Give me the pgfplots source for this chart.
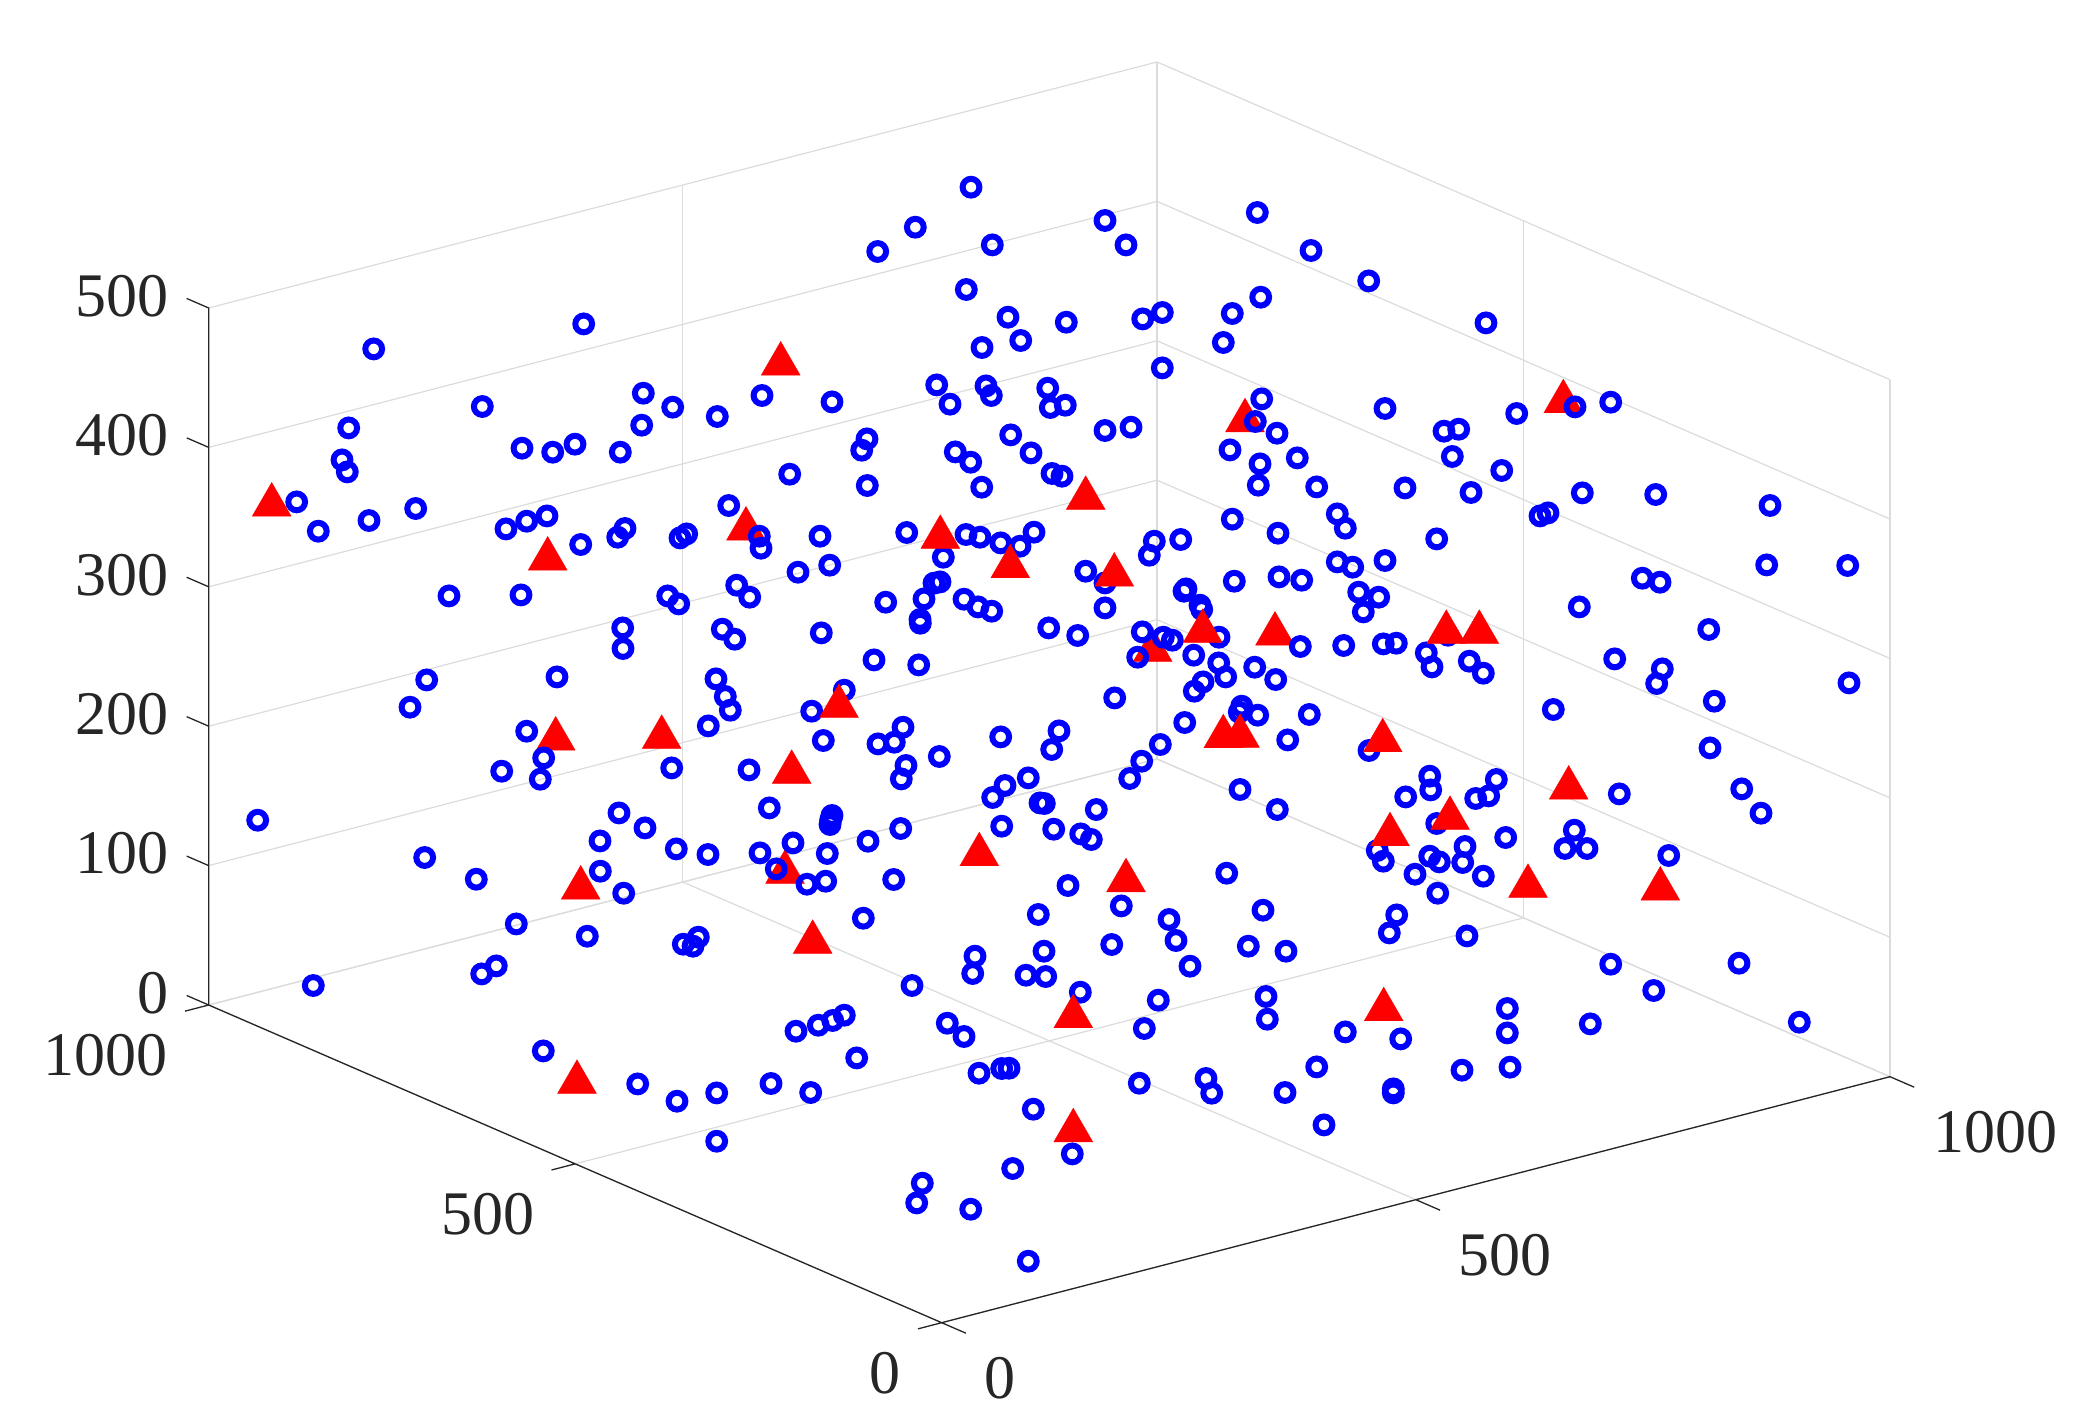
\documentclass[border=0pt]{standalone}
\usepackage{fontspec}
\setmainfont{Liberation Serif}
\usepackage{pgfplots}
\usepackage{pgfplotstable}
\pgfplotsset{compat=1.18}
% Points are read from the picture as screen positions (px, py, in reference pixels).
% The depth along the line of sight cannot be read; the expressions put each one on
% the plane through the cube's centre, so that it projects to where it was read.
\newcommand{\Xof}{1000*((\thisrow{px}-941.7)*1014.7+733*(1670.0-\thisrow{py}))/1653459}
\newcommand{\Yof}{1000*(948.3*(1670.0-\thisrow{py})-943*(\thisrow{px}-941.7))/1653459}
\newcommand{\Zof}{500*(((\thisrow{px}-941.7)*71.7+1681.3*(1670.0-\thisrow{py}))/1653459-0.5)}
\pgfplotstableread{
px py pz
373.7 347.7 0
583.7 322.7 0
482.3 405.3 0
348.7 426.7 0
342 458.7 0
347.3 470.7 0
296.7 500.7 0
318.3 530 0
369 519.3 0
415.7 507.3 0
522 447 0
552.7 451 0
575 443 0
620.3 451 0
643.3 392 0
641.7 424 0
506 527.7 0
526.7 520 0
547 514.7 0
625 527.3 0
617.7 536 0
580.7 543.3 0
971 186 0
915.3 226 0
877.7 250.3 0
992.3 243.7 0
966.3 288.3 0
1008 316 0
1020.7 339.3 0
1066.3 321 0
982 346.3 0
1105 219.3 0
1126 243.7 0
672.7 406 0
717.3 415.3 0
762 394.3 0
832 400.7 0
936.7 383.7 0
950 403 0
986 384.7 0
991.3 394.3 0
1047.7 387 0
1050.3 406.3 0
1065.3 404 0
867 437.7 0
861.7 449 0
789.7 473 0
867.3 484.3 0
1010.7 433.7 0
1031 451.7 0
955.3 450.7 0
970.7 461 0
981.7 486 0
1052 472.3 0
1062 475 0
1105 429.3 0
1131 426 0
728.7 504.3 0
680 536.7 0
686.7 532.7 0
820 535 0
906.7 531.3 0
966 533.3 0
980 536 0
1000.7 541.7 0
1020 545 0
1034 531 0
943.3 556 0
1257.3 211.3 0
1311 249.3 0
1368.7 279.7 0
1486 321.7 0
1142.7 317.7 0
1162.3 311.3 0
1232.3 312.3 0
1260.7 296 0
1223.3 341.3 0
1162.3 366.7 0
1261.7 397.7 0
1385 407.3 0
1444 430 0
1458.7 428 0
1452.3 455.3 0
1516.7 412.3 0
1277 432 0
1230 448.7 0
1260 462.7 0
1297.3 456.7 0
1258.3 484 0
1316.7 485.7 0
1405 486.7 0
1471 491.3 0
1501.7 469.3 0
1337.3 512.7 0
1345.3 527 0
1232.3 518 0
1278 532 0
1436.7 537.7 0
1540 514.7 0
1548 511.7 0
1154.3 540 0
1180.7 538.3 0
1149.3 554 0
1337.3 560.7 0
1385 559.3 0
1610.7 401 0
1582.3 491.7 0
1655.7 493.3 0
1770 504.3 0
1766.7 563.7 0
1847.7 564.3 0
1642.3 577 0
1660 581 0
1579.3 605.7 0
1708.7 628.3 0
1614.7 657.7 0
1662.3 667.7 0
1656.7 682.3 0
1849 681.7 0
1714.3 700 0
1553.3 708.3 0
449 594.7 0
521 593.7 0
622.7 626.7 0
623 647.3 0
426.7 678.7 0
410 706 0
557 675.7 0
526.7 730 0
501.7 770 0
540.3 778 0
257.7 819 0
619 811.7 0
645 826.7 0
600 839.7 0
424.7 856.3 0
476.3 878 0
600.3 870 0
623.7 892 0
516.3 922.7 0
587.3 935 0
798 571 0
829.7 564 0
667.7 594.7 0
678.7 602.7 0
736.7 584 0
749.7 596 0
722.3 628 0
734.7 638 0
821.3 631.7 0
885.7 601 0
934 582 0
940 580.7 0
924 597.7 0
920 618.3 0
920.3 622 0
964 598 0
978 605.7 0
991.7 610 0
1085.7 570 0
1048.7 626.7 0
1077.7 634.3 0
1105 606.7 0
874 658.7 0
918.7 663.7 0
716 677.7 0
725.3 695.3 0
730.3 709 0
708.3 724.7 0
844.3 689 0
811.7 710 0
823.3 739.3 0
671.7 766.7 0
749 768.7 0
903 726 0
894.3 741 0
878 742.7 0
939.3 755.3 0
1000.7 735.7 0
1059 729.7 0
1051.7 748.3 0
906 764.3 0
901.3 777.7 0
1028.3 776.7 0
1005 784.3 0
992.7 796.3 0
1040 801.7 0
1044.3 802.3 0
1096.3 808.3 0
769.3 806.7 0
832 814.3 0
830.7 818.7 0
830 823.3 0
900.7 827.3 0
1001.7 825 0
1053.7 828 0
1080.7 832.7 0
1091.3 838.3 0
676.3 847.7 0
708 853.3 0
760 851.7 0
827.3 852.3 0
868 840 0
825.7 880 0
893.7 878.3 0
1068 884.3 0
863.3 917 0
1038.3 913.3 0
698.3 936 0
693 945 0
683.3 943 0
975 955 0
1044 950 0
1105 581.7 0
1234.3 580 0
1279 575.7 0
1301.7 579 0
1352.7 566 0
1358.7 591 0
1378.7 596 0
1363.3 610.7 0
1184 590 0
1186 587.7 0
1200 604 0
1201.7 608.3 0
1219 636 0
1193.7 654 0
1218.7 661.7 0
1225.7 675.7 0
1203 680.7 0
1194.3 690 0
1254.7 666 0
1275.7 678.3 0
1343.7 644.3 0
1383.3 642.7 0
1396.3 642 0
1426.3 651.7 0
1432 665.7 0
1469.3 660 0
1483.3 672 0
1448 634 0
1114.7 696.7 0
1241.7 705 0
1239.3 711 0
1257.7 714 0
1309.3 713.3 0
1184.7 721.3 0
1287.7 738.7 0
1160.3 743.3 0
1141.7 760 0
1129.7 777.3 0
1369 749.3 0
1240 788.3 0
1277.3 808.3 0
1429.7 775 0
1430.7 788.7 0
1405.7 795.7 0
1496.3 778.3 0
1475.7 797.3 0
1488.7 794.7 0
1436.7 822.3 0
1505.7 836.3 0
1465 845.3 0
1377.3 849.3 0
1383.3 860 0
1429.7 855 0
1439.3 860.7 0
1462.7 861.3 0
1415 873 0
1483.3 875 0
1437.7 892 0
1226.7 872 0
1121.3 904.7 0
1169 918.3 0
1176 939.3 0
1111.7 943.3 0
1263 909 0
1248.3 945 0
1286 950 0
1396.7 913.7 0
1389.3 931.7 0
1467 934.7 0
1619.3 792.7 0
1710 746.7 0
1741.7 787.7 0
1761 812 0
1574.3 829 0
1565 847.3 0
1587 847.3 0
1668.7 854.3 0
1610.7 963 0
1739 962 0
1653.7 989.3 0
1590.3 1022.7 0
1799.3 1021 0
313.3 984.3 0
481.7 972.7 0
496.3 964.7 0
543.3 1049.7 0
637.7 1082.7 0
912 984.3 0
972.7 972.3 0
1026 974 0
1045.7 975.3 0
1080.3 991 0
844.3 1014 0
832.7 1019.3 0
818.3 1024 0
796 1030 0
856.7 1056.7 0
947.3 1022 0
964 1035.3 0
979 1072 0
1001.7 1067.3 0
1009 1067 0
1033.3 1108 0
771 1082.3 0
810.7 1091.3 0
716.7 1091.7 0
677 1100 0
716.7 1140 0
1072.3 1152.7 0
1012.7 1167.3 0
922.3 1182 0
916.7 1201.7 0
970.7 1208 0
1028.3 1260 0
1190 965 0
1158.3 999 0
1144.3 1027.3 0
1139.3 1082 0
1206 1077.3 0
1211.7 1092 0
1266 995.3 0
1267.3 1018 0
1345.3 1030.7 0
1400.7 1037.7 0
1316.7 1065.7 0
1285 1091.3 0
1324 1123.7 0
1393.3 1087.7 0
1393.3 1091.7 0
1462 1069 0
1510 1066 0
1507.3 1007.3 0
1507.3 1031.7 0
}\circlesbelow
\pgfplotstableread{
px py pz
271.7 503.7 0
547.7 557.7 0
780.7 362.7 0
746 527.7 0
940.3 536 0
1085.7 497 0
1010.3 565.4 0
1245 419.4 0
1563.3 400.4 0
555.7 737.7 0
661.7 736 0
580.7 886.7 0
839 705 0
791.7 771 0
979.3 853.4 0
785 871 0
812.7 941 0
1114.3 573.7 0
1202.7 630 0
1275 632.7 0
1152.7 649 0
1223.3 735.4 0
1240 735 0
1382.7 739.4 0
1446.3 631 0
1479.3 631 0
1450 817 0
1390 833.4 0
1126 879.4 0
1528 885 0
1568.7 786.7 0
1660.3 887.7 0
577 1081 0
1073.3 1015.4 0
1073.3 1129.4 0
1383.7 1008.4 0
}\triangles
\pgfplotstableread{
px py pz
1255.3 420.3 0
1575 405.7 0
776.3 867.7 0
793 841.7 0
1142.3 630.7 0
1137.7 656 0
1163.3 636 0
1172.3 639 0
543.7 756.7 0
807 883 0
759.3 535 0
761 547 0
1300.3 645.3 0
}\circlesabove
\definecolor{axisdark}{gray}{0.15}
\definecolor{gridgray}{gray}{0.86}
\begin{document}
\begin{tikzpicture}
\path[use as bounding box] (0,0) rectangle (1048pt,711.5pt);
\begin{axis}[
  at={(470.85pt,50.15pt)}, anchor=origin,
  x={(0.47415pt,0.123pt)}, y={(-0.3665pt,0.15885pt)}, z={(0pt,0.697pt)},
  xmin=0,xmax=1000,ymin=0,ymax=1000,zmin=0,zmax=500,
  xtick={0,500,1000}, ytick={0,500,1000}, ztick={0,100,200,300,400,500},
  xticklabels={0,500,1000}, yticklabels={0,500,1000}, zticklabels={0,100,200,300,400,500},
  grid=major, major grid style={draw=gridgray, line width=0.6pt},
  axis line style={draw=none}, major tick length=0pt,
  clip=false,
  ticklabel style={font=\fontsize{31}{33}\selectfont, text=axisdark},
  xticklabel style={anchor=west, xshift=18pt, yshift=-27.5pt},
  yticklabel style={anchor=east, xshift=-17pt, yshift=-25pt},
  zticklabel style={anchor=east, xshift=-16.5pt, yshift=6pt},
]
\addplot3[axisdark, line width=0.65pt, mark=none] coordinates {(0,-33,0) (0,0,0) (500,0,0) (500,-33,0) (500,0,0) (1000,0,0) (1000,-33,0)};
\addplot3[axisdark, line width=0.65pt, mark=none] coordinates {(-25,0,0) (0,0,0) (0,500,0) (-25,500,0) (0,500,0) (0,1000,0) (-25,1000,0)};
\addplot3[axisdark, line width=0.65pt, mark=none] coordinates {(0,1030,0) (0,1000,0) (0,1000,100) (0,1030,100) (0,1000,100) (0,1000,200) (0,1030,200) (0,1000,200) (0,1000,300) (0,1030,300) (0,1000,300) (0,1000,400) (0,1030,400) (0,1000,400) (0,1000,500) (0,1030,500)};
\addplot3[only marks, mark=o, mark size=4.2pt, blue, mark options={line width=3pt, draw=blue, fill=none}] table[x=px, y=py, z=pz, x expr=\Xof, y expr=\Yof, z expr=\Zof] {\circlesbelow};
\addplot3[only marks, mark=triangle*, mark size=11.2pt, red, mark options={draw=red, line width=0.2pt, fill=red}] table[x=px, y=py, z=pz, x expr=\Xof, y expr=\Yof, z expr=\Zof] {\triangles};
\addplot3[only marks, mark=o, mark size=4.2pt, blue, mark options={line width=3pt, draw=blue, fill=none}] table[x=px, y=py, z=pz, x expr=\Xof, y expr=\Yof, z expr=\Zof] {\circlesabove};
\end{axis}
\end{tikzpicture}
\end{document}
